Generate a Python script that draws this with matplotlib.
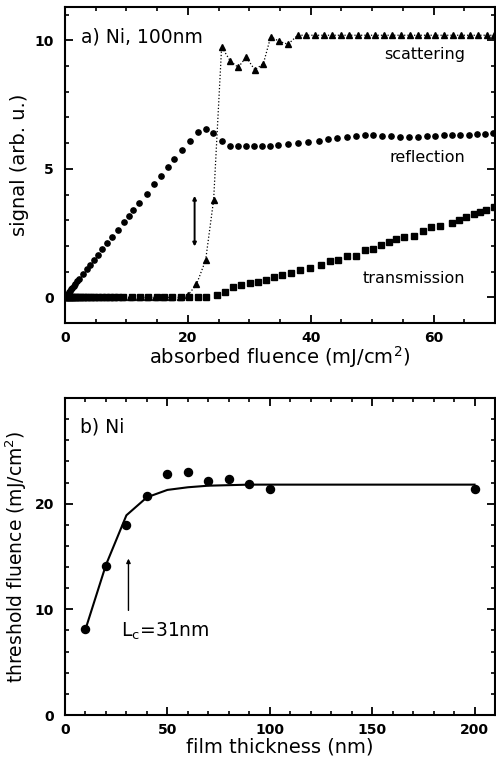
import matplotlib
matplotlib.use("Agg")
import matplotlib.pyplot as plt
from matplotlib.ticker import MultipleLocator

# ── a) Ni 100 nm: signals vs absorbed fluence ─────────────────────────────────
refl_x = [0, 0.15, 0.3, 0.45, 0.6, 0.8, 1.0, 1.2, 1.45, 1.7, 2.0, 2.3, 2.9,
          3.55, 4.1, 4.7, 5.4, 6.1, 6.9, 7.7, 8.6, 9.6, 10.4, 11.1, 12.1, 13.3,
          14.5, 15.6, 16.7, 17.8, 19.0, 20.4, 21.6, 22.9, 24.1, 25.5, 26.9,
          28.2, 29.5, 30.8, 32.0, 33.3, 34.6, 36.3, 38.0, 39.6, 41.3, 42.8,
          44.3, 45.9, 47.4, 48.8, 50.2, 51.6, 53.0, 54.5, 56.0, 57.5, 59.0,
          60.3, 61.7, 63.0, 64.3, 65.7, 67.0, 68.3, 69.7]
refl_y = [0, 0.05, 0.1, 0.14, 0.19, 0.25, 0.31, 0.37, 0.45, 0.53, 0.62, 0.72,
          0.9, 1.1, 1.27, 1.45, 1.66, 1.87, 2.1, 2.36, 2.63, 2.93, 3.17, 3.38,
          3.68, 4.04, 4.4, 4.73, 5.06, 5.4, 5.75, 6.1, 6.45, 6.55, 6.4, 6.1,
          5.9, 5.9, 5.9, 5.9, 5.9, 5.9, 5.92, 5.95, 6.0, 6.05, 6.1, 6.15,
          6.2, 6.25, 6.28, 6.3, 6.3, 6.28, 6.27, 6.25, 6.25, 6.25, 6.27,
          6.28, 6.3, 6.3, 6.32, 6.33, 6.35, 6.37, 6.4]

scat_x = [0, 0.2, 0.4, 0.6, 0.8, 1.0, 1.3, 1.6, 2.0, 2.5, 3.0, 3.6, 4.2, 4.9,
          5.6, 6.4, 7.2, 8.0, 9.3, 10.6, 12.0, 13.3, 14.6, 16.0, 17.3, 18.7,
          20.0, 21.4, 22.9, 24.2, 25.5, 26.9, 28.2, 29.5, 30.9, 32.3, 33.5,
          34.8, 36.3, 37.9, 39.3, 40.7, 42.1, 43.5, 44.9, 46.3, 47.7, 49.1,
          50.5, 51.9, 53.3, 54.7, 56.1, 57.5, 58.9, 60.3, 61.7, 63.1, 64.5,
          65.9, 67.3, 68.7, 69.9]
scat_y = [0, 0, 0, 0, 0, 0, 0, 0, 0, 0, 0, 0, 0, 0,
          0, 0, 0, 0, 0, 0, 0, 0, 0, 0, 0, 0,
          0.08, 0.5, 1.45, 3.8, 9.75, 9.2, 8.95, 9.35, 8.85, 9.1, 10.15,
          9.97, 9.85, 10.2, 10.2, 10.2, 10.2, 10.2, 10.2, 10.2, 10.2, 10.2,
          10.2, 10.2, 10.2, 10.2, 10.2, 10.2, 10.2, 10.2, 10.2, 10.2, 10.2,
          10.2, 10.2, 10.2, 10.2]

trans_x = [0, 0.3, 0.6, 0.9, 1.2, 1.5, 1.8, 2.1, 2.5, 2.9, 3.3, 3.8, 4.3, 4.8,
           5.4, 6.0, 6.6, 7.3, 8.0, 8.7, 9.5, 10.9, 12.2, 13.5, 14.9, 16.2,
           17.5, 18.9, 20.2, 21.6, 23.0, 24.8, 26.1, 27.3, 28.7, 30.1, 31.4,
           32.7, 34.0, 35.3, 36.8, 38.3, 39.9, 41.7, 43.1, 44.5, 45.9, 47.4,
           48.8, 50.1, 51.5, 52.8, 53.9, 55.2, 56.8, 58.2, 59.5, 61.1, 63.0,
           64.1, 65.2, 66.5, 67.6, 68.6, 69.9]
trans_y = [0, 0, 0, 0, 0, 0, 0, 0, 0, 0, 0, 0, 0, 0,
           0, 0, 0, 0, 0, 0, 0, 0, 0, 0, 0, 0,
           0, 0, 0, 0, 0, 0.08, 0.22, 0.39, 0.47, 0.56, 0.6,
           0.69, 0.78, 0.87, 0.95, 1.05, 1.14, 1.24, 1.4, 1.46, 1.62, 1.62,
           1.85, 1.9, 2.03, 2.16, 2.26, 2.33, 2.4, 2.6, 2.73, 2.78, 2.91,
           3.01, 3.14, 3.23, 3.33, 3.4, 3.53]

# ── b) Ni: threshold fluence vs film thickness ────────────────────────────────
thick_nm = [10, 20, 30, 40, 50, 60, 70, 80, 90, 100, 200]
thresh = [8.1, 14.1, 18.0, 20.7, 22.85, 22.95, 22.1, 22.3, 21.9, 21.4, 21.4]
fit_nm = [10, 20, 30, 40, 50, 60, 70, 80, 90, 100, 200]
fit_thresh = [8.1, 14.2, 18.9, 20.6, 21.3, 21.55, 21.7, 21.75, 21.8, 21.8, 21.8]

plt.rcParams.update({
    "font.family": "DejaVu Sans",
    "axes.linewidth": 1.5,
    "xtick.direction": "in",
    "ytick.direction": "in",
    "xtick.top": True,
    "ytick.right": True,
    "xtick.major.size": 6,
    "ytick.major.size": 6,
    "xtick.minor.size": 3,
    "ytick.minor.size": 3,
    "xtick.major.width": 1.3,
    "ytick.major.width": 1.3,
    "xtick.minor.width": 1.2,
    "ytick.minor.width": 1.2,
    "xtick.major.pad": 6,
    "ytick.major.pad": 8,
})

fig = plt.figure(figsize=(4.96, 7.68), dpi=100)
ax1 = fig.add_axes([0.131, 0.5794, 0.867, 0.4115])
ax2 = fig.add_axes([0.131, 0.069, 0.867, 0.4128])


def style_ticks(ax):
    for lab in ax.get_xticklabels() + ax.get_yticklabels():
        lab.set_fontweight("bold")
        lab.set_fontsize(10)


# panel a
ax1.plot(scat_x, scat_y, color="k", ls=":", lw=0.9, marker="^", ms=3.8,
         mec="k", mfc="k")
ax1.plot(refl_x, refl_y, ls="none", marker="o", ms=3.8, color="k")
ax1.plot(trans_x, trans_y, ls="none", marker="s", ms=3.9, color="k")

ax1.annotate("", xy=(21.1, 1.98), xytext=(21.1, 3.95),
             arrowprops=dict(arrowstyle="<|-|>", lw=1.4, color="k",
                             mutation_scale=5, shrinkA=0, shrinkB=0))

ax1.text(2.6, 10.15, "a) Ni, 100nm", fontsize=13.5, va="center", ha="left")
ax1.text(65.2, 9.45, "scattering", fontsize=11.5, va="center", ha="right")
ax1.text(65.2, 5.45, "reflection", fontsize=11.5, va="center", ha="right")
ax1.text(65.2, 0.73, "transmission", fontsize=11.5, va="center", ha="right")

ax1.set_xlim(0, 70)
ax1.set_ylim(-1, 11.3)
ax1.xaxis.set_major_locator(MultipleLocator(20))
ax1.xaxis.set_minor_locator(MultipleLocator(5))
ax1.set_yticks([0, 5, 10])
ax1.yaxis.set_minor_locator(MultipleLocator(1))
ax1.set_xlabel("absorbed fluence (mJ/cm$^2$)", fontsize=14, labelpad=-1)
ax1.set_ylabel("signal (arb. u.)", fontsize=14, labelpad=4)
style_ticks(ax1)

# panel b
ax2.plot(fit_nm, fit_thresh, color="k", lw=1.5)
ax2.plot(thick_nm, thresh, ls="none", marker="o", ms=5.8, color="k")

ax2.annotate("", xy=(31, 14.8), xytext=(31, 9.9),
             arrowprops=dict(arrowstyle="-|>", lw=1.0, color="k",
                             mutation_scale=6, shrinkA=0, shrinkB=0))
ax2.text(27.5, 7.9, "L$_\\mathregular{c}$=31nm", fontsize=13.5,
         va="center", ha="left")
ax2.text(7.3, 27.3, "b) Ni", fontsize=13.5, va="center", ha="left")

ax2.set_xlim(0, 210)
ax2.set_ylim(0, 30)
ax2.xaxis.set_major_locator(MultipleLocator(50))
ax2.xaxis.set_minor_locator(MultipleLocator(10))
ax2.set_yticks([0, 10, 20])
ax2.yaxis.set_minor_locator(MultipleLocator(2))
ax2.set_xlabel("film thickness (nm)", fontsize=14, labelpad=0)
ax2.set_ylabel("threshold fluence (mJ/cm$^2$)", fontsize=13.5, labelpad=4)
style_ticks(ax2)

fig.savefig("out.png", dpi=100)
